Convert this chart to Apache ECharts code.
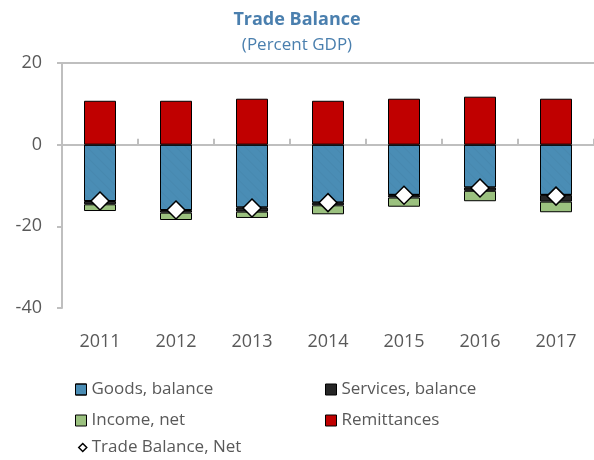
<!DOCTYPE html>
<html>
<head>
<meta charset="utf-8">
<script src="https://cdn.jsdelivr.net/npm/echarts@6/dist/echarts.min.js"></script>
<style>
    html, body {margin: 0; padding: 0; background: #fff;}
    #chart {width: 594px; height: 460px;}
</style>
</head>
<body>
<div id="chart"></div>
<script>
const years = ['2011', '2012', '2013', '2014', '2015', '2016', '2017'];
const goods = [-13.8, -16.0, -15.4, -14.2, -12.3, -10.5, -12.3];
const services = [-0.8, -0.65, -1.0, -0.65, -0.65, -0.8, -1.65];
const income = [-1.65, -1.8, -1.55, -2.2, -2.25, -2.55, -2.6];
const remittances = [10.75, 10.75, 11.25, 10.75, 11.25, 11.75, 11.25];
const tradeNet = [-13.8, -16.0, -15.5, -14.2, -12.4, -10.6, -12.6];
const yTicks = [-40, -20, 0, 20];

const chart = echarts.init(document.getElementById('chart'));
const gray = '#595959';
const font = '"Open Sans", "Noto Sans", sans-serif';

const barStyle = (color) => ({color: color, borderColor: '#000', borderWidth: 1});
const legendText = {color: gray, fontSize: 17, fontFamily: font};

const option = {
    animation: false,
    textStyle: {fontFamily: font},
    title: {
        text: 'Trade Balance',
        subtext: '(Percent GDP)',
        left: 'center',
        top: 6,
        itemGap: 8,
        textStyle: {color: '#4a7fae', fontSize: 18, fontWeight: 'bold', fontFamily: font},
        subtextStyle: {color: '#4a7fae', fontSize: 17, fontFamily: font}
    },
    legend: [
        {
            left: 70, top: 376, height: 80, orient: 'vertical', itemGap: 14,
            itemWidth: 11, itemHeight: 11, icon: 'rect',
            itemStyle: {borderColor: '#000', borderWidth: 1},
            textStyle: legendText,
            data: ['Goods, balance', 'Income, net']
        },
        {
            left: 73, top: 434, orient: 'vertical',
            itemWidth: 8, itemHeight: 8, icon: 'diamond',
            itemStyle: {borderColor: '#000', borderWidth: 1.5},
            textStyle: legendText,
            data: ['Trade Balance, Net']
        },
        {
            left: 320, top: 376, height: 80, orient: 'vertical', itemGap: 14,
            itemWidth: 11, itemHeight: 11, icon: 'rect',
            itemStyle: {borderColor: '#000', borderWidth: 1},
            textStyle: legendText,
            data: ['Services, balance', 'Remittances']
        }
    ],
    grid: {left: 62, right: 0, top: 63, bottom: 152},
    xAxis: [
        {
            type: 'category',
            data: years,
            position: 'bottom',
            axisLine: {show: false},
            axisTick: {show: false},
            axisLabel: {color: gray, fontSize: 18, margin: 25}
        },
        {
            type: 'category',
            data: years,
            position: 'bottom',
            axisLine: {onZero: true, onZeroAxisIndex: 0, lineStyle: {color: '#bfbfbf', width: 2}},
            axisTick: {show: true, inside: true, length: 6, lineStyle: {color: '#bfbfbf', width: 2}},
            axisLabel: {show: false}
        },
        {
            type: 'category',
            data: years,
            position: 'top',
            axisLine: {show: true, lineStyle: {color: '#bfbfbf', width: 2}},
            axisTick: {show: false},
            axisLabel: {show: false}
        }
    ],
    yAxis: {
        type: 'value',
        min: yTicks[0],
        max: yTicks[yTicks.length - 1],
        interval: 20,
        axisLine: {show: true, lineStyle: {color: '#bfbfbf', width: 2}},
        axisTick: {show: true, length: 5, lineStyle: {color: '#bfbfbf', width: 2}},
        splitLine: {show: false},
        axisLabel: {color: gray, fontSize: 18, margin: 20}
    },
    series: [
        {
            name: 'Goods, balance', type: 'bar', stack: 'ca', data: goods,
            barWidth: 32,
            itemStyle: Object.assign(barStyle('#4a8db5'), {
                decal: {
                    symbol: 'rect', symbolSize: 1,
                    dashArrayX: [1, 0], dashArrayY: [1, 6],
                    rotation: Math.PI / 4,
                    color: 'rgba(0,0,0,0.035)'
                }
            })
        },
        {name: 'Services, balance', type: 'bar', stack: 'ca', data: services, barWidth: 32, itemStyle: barStyle('#262626')},
        {name: 'Income, net', type: 'bar', stack: 'ca', data: income, barWidth: 32, itemStyle: barStyle('#9bc17f')},
        {name: 'Remittances', type: 'bar', stack: 'ca', data: remittances, barWidth: 32, itemStyle: barStyle('#c00000')},
        {
            name: 'Trade Balance, Net', type: 'scatter', data: tradeNet,
            symbol: 'diamond', symbolSize: [18, 18], z: 5,
            itemStyle: {color: '#fff', opacity: 1, borderColor: '#000', borderWidth: 1.5}
        }
    ]
};
chart.setOption(option);
</script>
</body>
</html>
